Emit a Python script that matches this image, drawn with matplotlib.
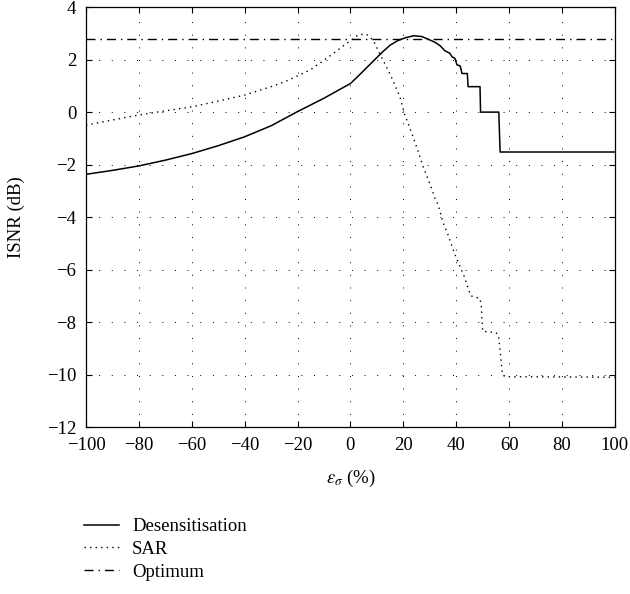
import matplotlib
matplotlib.use("Agg")
import matplotlib.pyplot as plt
import numpy as np

plt.rcParams['font.family'] = ['Liberation Serif', 'DejaVu Serif']
plt.rcParams['mathtext.fontset'] = 'stix'

# Relative error on sigma (%)
desens_x = [-100, -90, -80, -70, -60, -50, -40, -30, -20, -10, 0, 3, 6, 9, 12, 15,
            18, 21, 24, 27, 30, 32, 34, 35.5, 36, 37.5, 38.5, 39.5, 40.3, 41.5,
            42.2, 44.2, 44.5, 49.0, 49.2, 56.1, 56.6, 100]
desens_y = [-2.37, -2.22, -2.05, -1.83, -1.58, -1.28, -0.94, -0.52, 0.02, 0.53,
            1.09, 1.38, 1.68, 1.98, 2.28, 2.55, 2.73, 2.84, 2.91, 2.88, 2.75, 2.66,
            2.52, 2.36, 2.32, 2.25, 2.10, 2.05, 1.80, 1.76, 1.47, 1.47, 0.97, 0.97,
            0.0, 0.0, -1.52, -1.52]

sar_x = [-100, -90, -80, -70, -60, -50, -40, -30, -25, -20, -15, -10, -6, -3, 0,
         3, 6, 8.6, 11, 13.6, 16, 18.7, 20.6, 23, 25, 27.5, 30, 32, 33.2, 35, 37,
         38.5, 40, 41.5, 43, 44.5, 45.5, 49, 49.5, 50, 55, 56, 57, 57.5, 58.5, 100]
sar_y = [-0.50, -0.30, -0.11, 0.05, 0.20, 0.42, 0.65, 0.97, 1.15, 1.38, 1.62, 1.98,
         2.27, 2.50, 2.72, 2.95, 2.97, 2.74, 2.24, 1.73, 1.22, 0.58, -0.11, -0.75,
         -1.32, -2.08, -2.72, -3.29, -3.54, -4.20, -4.70, -5.15, -5.55, -5.90,
         -6.25, -6.70, -7.00, -7.10, -7.40, -8.35, -8.40, -8.50, -9.50, -10.00,
         -10.08, -10.10]

optimum = 2.77

xticks = [-100, -80, -60, -40, -20, 0, 20, 40, 60, 80, 100]
yticks = [-12, -10, -8, -6, -4, -2, 0, 2, 4]

fig = plt.figure(figsize=(6.3, 5.94), dpi=100)
ax = fig.add_axes([0.1365, 0.281, 0.8395, 0.707])

l1, = ax.plot(desens_x, desens_y, color='black', lw=1.1, label='Desensitisation')
l2, = ax.plot(sar_x, sar_y, color='black', lw=1.0, linestyle=(0, (1, 3)), label='SAR')
l3 = ax.axhline(optimum, color='black', lw=1.0, linestyle=(0, (6.5, 3.6, 1, 3.6)),
                label='Optimum')

ax.set_xlim(-100, 100)
ax.set_ylim(-12, 4)
ax.set_xticks(xticks)
ax.set_yticks(yticks)
ax.set_xticklabels([f"\u2212{abs(v)}" if v < 0 else str(v) for v in xticks])
ax.set_yticklabels([f"\u2212{abs(v)}" if v < 0 else str(v) for v in yticks])
ax.tick_params(direction='in', top=True, right=True, length=4, width=0.8,
               labelsize=13.5)
ax.tick_params(axis='x', pad=7)
ax.tick_params(axis='y', pad=7)
ax.grid(True, color='black', lw=0.7, linestyle=(0, (1, 12)))
for s in ax.spines.values():
    s.set_linewidth(0.9)

ax.set_xlabel(r'$\varepsilon_\sigma$ (%)', fontsize=13.5, labelpad=10)
ax.set_ylabel('ISNR (dB)', fontsize=13.5, labelpad=16)

fig.legend(handles=[l1, l2, l3], loc='upper left', bbox_to_anchor=(0.134, 0.128),
           frameon=False, fontsize=13.5, handlelength=1.85, handletextpad=0.7,
           labelspacing=0.3, borderaxespad=0, borderpad=0)

fig.savefig('out.png', dpi=100, facecolor='white')
